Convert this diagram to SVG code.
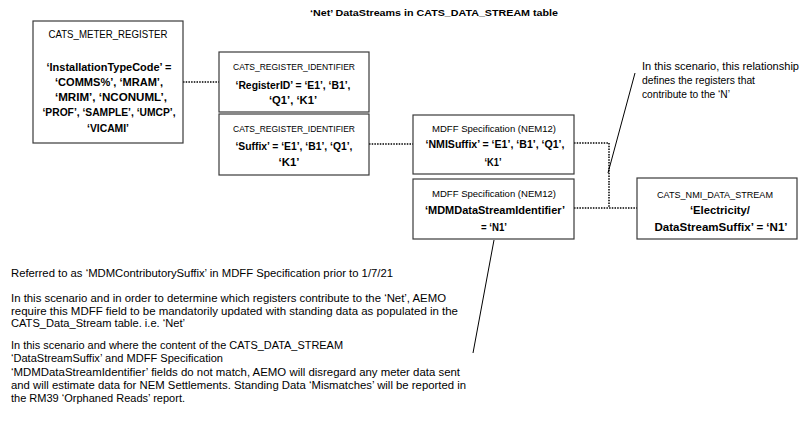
<svg xmlns="http://www.w3.org/2000/svg" width="801" height="448" viewBox="0 0 801 448">
<style>
  text { font-family: "Liberation Sans", Arial, sans-serif; fill: #000; }
  .box { fill: #fff; stroke: #3a3a3a; stroke-width: 1.2; }
  .hdr { font-size: 8.5px; text-anchor: middle; }
  .hdrL { font-size: 10.5px; text-anchor: middle; }
  .b { font-size: 10.5px; font-weight: bold; text-anchor: middle; }
  .note { font-size: 10px; }
  .title { font-size: 9.5px; font-weight: bold; }
  .dot { fill: none; stroke: #000; stroke-width: 1.5; stroke-dasharray: 1.5 1.2; }
  .lead { fill: none; stroke: #000; stroke-width: 1; }
</style>
<rect width="801" height="448" fill="#fff"/>

<text class="title" x="310" y="16" textLength="248" lengthAdjust="spacingAndGlyphs">‘Net’ DataStreams in CATS_DATA_STREAM table</text>

<g id="connectors">
  <polyline class="dot" points="183,82 219,82"/>
  <polyline class="dot" points="369,144 413,144"/>
  <polyline class="dot" points="574,143 609,143 609,208"/>
  <polyline class="dot" points="574,208 637,208"/>
  <line class="lead" x1="608" y1="173" x2="635" y2="73"/>
  <line class="lead" x1="494" y1="240" x2="473" y2="353"/>
</g>

<g id="cats_meter_register">
  <rect class="box" x="33" y="21" width="150" height="122"/>
  <text class="hdrL" x="108" y="38" textLength="119" lengthAdjust="spacingAndGlyphs">CATS_METER_REGISTER</text>
  <text class="b" x="109" y="71" textLength="125" lengthAdjust="spacingAndGlyphs">‘InstallationTypeCode’ =</text>
  <text class="b" x="109" y="86" textLength="108" lengthAdjust="spacingAndGlyphs">‘COMMS%’, ‘MRAM’,</text>
  <text class="b" x="111" y="101" textLength="112" lengthAdjust="spacingAndGlyphs">‘MRIM’, ‘NCONUML’,</text>
  <text class="b" x="109" y="116" textLength="133" lengthAdjust="spacingAndGlyphs">‘PROF’, ‘SAMPLE’, ‘UMCP’,</text>
  <text class="b" x="108" y="132" textLength="42" lengthAdjust="spacingAndGlyphs">‘VICAMI’</text>
</g>

<g id="cats_register_identifier_1">
  <rect class="box" x="219" y="52" width="150" height="60"/>
  <text class="hdr" x="294" y="70" textLength="122" lengthAdjust="spacingAndGlyphs">CATS_REGISTER_IDENTIFIER</text>
  <text class="b" x="293" y="89" textLength="115" lengthAdjust="spacingAndGlyphs">‘RegisterID’ = ‘E1’, ‘B1’,</text>
  <text class="b" x="293" y="104" textLength="48" lengthAdjust="spacingAndGlyphs">‘Q1’, ‘K1’</text>
</g>

<g id="cats_register_identifier_2">
  <rect class="box" x="219" y="114" width="150" height="61"/>
  <text class="hdr" x="294" y="132" textLength="122" lengthAdjust="spacingAndGlyphs">CATS_REGISTER_IDENTIFIER</text>
  <text class="b" x="294" y="150" textLength="117" lengthAdjust="spacingAndGlyphs">‘Suffix’ = ‘E1’, ‘B1’, ‘Q1’,</text>
  <text class="b" x="289" y="166" textLength="21" lengthAdjust="spacingAndGlyphs">‘K1’</text>
</g>

<g id="mdff_nmisuffix">
  <rect class="box" x="413" y="115" width="161" height="59"/>
  <text class="hdr" x="494" y="132" textLength="124" lengthAdjust="spacingAndGlyphs">MDFF Specification (NEM12)</text>
  <text class="b" x="495" y="148" textLength="139" lengthAdjust="spacingAndGlyphs">‘NMISuffix’ = ‘E1’, ‘B1’, ‘Q1’,</text>
  <text class="b" x="493" y="166" textLength="17" lengthAdjust="spacingAndGlyphs">‘K1’</text>
</g>

<g id="mdff_mdmdatastreamidentifier">
  <rect class="box" x="413" y="179" width="161" height="60"/>
  <text class="hdr" x="494" y="197" textLength="124" lengthAdjust="spacingAndGlyphs">MDFF Specification (NEM12)</text>
  <text class="b" x="495" y="214" textLength="140" lengthAdjust="spacingAndGlyphs">‘MDMDataStreamIdentifier’</text>
  <text class="b" x="494" y="231" textLength="26" lengthAdjust="spacingAndGlyphs">= ‘N1’</text>
</g>

<g id="cats_nmi_data_stream">
  <rect class="box" x="637" y="178" width="160" height="61"/>
  <text class="hdr" x="715" y="198" textLength="116" lengthAdjust="spacingAndGlyphs">CATS_NMI_DATA_STREAM</text>
  <text class="b" x="720" y="214" textLength="60" lengthAdjust="spacingAndGlyphs">‘Electricity/</text>
  <text class="b" x="721" y="231" textLength="133" lengthAdjust="spacingAndGlyphs">DataStreamSuffix’ = ‘N1’</text>
</g>

<g id="callout_relationship">
  <text class="note" x="642" y="70" textLength="157" lengthAdjust="spacingAndGlyphs">In this scenario, this relationship</text>
  <text class="note" x="642" y="84" textLength="113" lengthAdjust="spacingAndGlyphs">defines the registers that</text>
  <text class="note" x="642" y="98" textLength="88" lengthAdjust="spacingAndGlyphs">contribute to the ‘N’</text>
</g>

<g id="notes" xml:space="preserve">
  <text class="note" x="11" y="277" textLength="382" lengthAdjust="spacingAndGlyphs">Referred to as ‘MDMContributorySuffix’ in MDFF Specification prior to 1/7/21</text>
  <text class="note" x="11" y="302" textLength="435" lengthAdjust="spacingAndGlyphs">In this scenario and in order to determine which registers contribute to the ‘Net’,  AEMO</text>
  <text class="note" x="11" y="315" textLength="447" lengthAdjust="spacingAndGlyphs">require this MDFF field to be mandatorily updated with standing data as populated in the</text>
  <text class="note" x="11" y="327" textLength="174" lengthAdjust="spacingAndGlyphs">CATS_Data_Stream table.   i.e. ‘Net’</text>
  <text class="note" x="11" y="349" textLength="332" lengthAdjust="spacingAndGlyphs">In this scenario and where the content of the CATS_DATA_STREAM</text>
  <text class="note" x="11" y="362" textLength="212" lengthAdjust="spacingAndGlyphs">‘DataStreamSuffix’  and MDFF Specification</text>
  <text class="note" x="11" y="376" textLength="449" lengthAdjust="spacingAndGlyphs">‘MDMDataStreamIdentifier’ fields do not match,  AEMO will disregard any meter data sent</text>
  <text class="note" x="11" y="389" textLength="455" lengthAdjust="spacingAndGlyphs">and will estimate data for NEM Settlements.  Standing Data ‘Mismatches’ will be reported in</text>
  <text class="note" x="11" y="402" textLength="174" lengthAdjust="spacingAndGlyphs">the RM39 ‘Orphaned Reads’ report.</text>
</g>
</svg>
